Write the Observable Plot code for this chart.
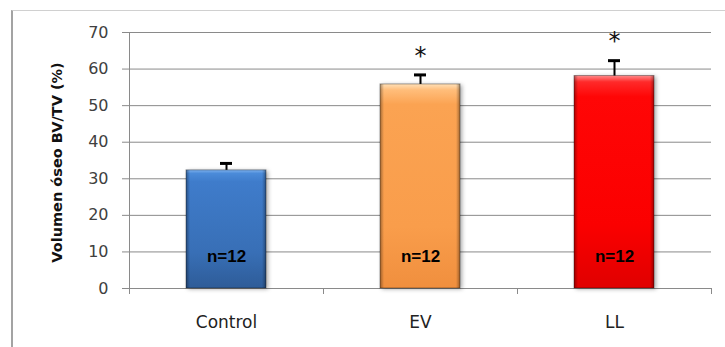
<!DOCTYPE html>
<html><head><meta charset="utf-8">
<script src="https://cdn.jsdelivr.net/npm/d3@7"></script>
<script src="https://cdn.jsdelivr.net/npm/@observablehq/plot@0.6"></script>
<style>
body{margin:0;background:#fff;}
#wrap{position:relative;width:725px;height:347px;overflow:hidden;}
#frame{position:absolute;left:11px;top:10px;right:0;bottom:0;border-left:2px solid #a3a3a3;border-top:1px solid #d0d0d0;pointer-events:none;}
</style></head><body>
<div id="wrap"><div id="frame"></div></div>
<script>
// ---- data ----
const groups = ["Control", "EV", "LL"];
const means = [32.3, 55.8, 58.1];
const errors = [1.9, 2.6, 4.2];
const sampleSizes = ["n=12", "n=12", "n=12"];
const significance = ["", "*", "*"];
const yTicks = [0, 10, 20, 30, 40, 50, 60, 70];
const yLabel = "Volumen óseo BV/TV (%)";

const data = groups.map((g, i) => ({
  group: g, mean: means[i], upper: means[i] + errors[i],
  n: sampleSizes[i], sig: significance[i]
}));

// ---- styles ----
const fills = ["url(#gControl)", "url(#gEV)", "url(#gLL)"];
const grid = "#8a8a8a";
const font = "'DejaVu Sans', sans-serif";

const chart = Plot.plot({
  width: 725, height: 347,
  marginLeft: 129, marginRight: 14, marginTop: 32, marginBottom: 59,
  style: {fontFamily: font, background: "transparent", overflow: "visible"},
  x: {domain: groups, paddingInner: 0.59, paddingOuter: 0.295, label: null},
  y: {domain: [0, 70], label: null},
  color: {domain: groups, range: fills},
  marks: [
    Plot.gridY(yTicks, {stroke: grid, strokeOpacity: 1, insetLeft: -7}),
    Plot.axisY(yTicks, {tickSize: 0, tickPadding: 21, fontSize: 16, color: "#404040", label: null}),
    Plot.axisX({tickSize: 0, tickPadding: 27, fontSize: 17, color: "#222", label: null}),
    Plot.barY(data, {x: "group", y: "mean", fill: "group"}),
    Plot.barY(data, {x: "group", y: "mean", fill: "url(#edgeShade)", stroke: "rgba(0,0,0,0.35)", strokeWidth: 1}),
    Plot.ruleX(data, {x: "group", y1: "mean", y2: "upper", stroke: "#000", strokeWidth: 2}),
    Plot.tickY(data, {x: "group", y: "upper", stroke: "#000", strokeWidth: 3, insetLeft: 34, insetRight: 34}),
    Plot.text(data.filter(d => d.sig), {x: "group", y: "upper", text: "sig", dy: -19, fontSize: 24, fill: "#111"}),
    Plot.text(data, {x: "group", frameAnchor: "bottom", dy: -27, text: "n", fontFamily: "'Liberation Sans', Arial, sans-serif", fontWeight: "bold", fontSize: 17, fill: "#000"}),
    Plot.text([yLabel], {frameAnchor: "left", textAnchor: "middle", dx: -72, dy: 2, rotate: -90, text: d => d, fontSize: 14.5, fontWeight: "bold", fill: "#111"})
  ]
});

// gradients and filters
const svg = d3.select(chart);
const defs = svg.insert("defs", ":first-child");
function vgrad(id, stops) {
  const g = defs.append("linearGradient").attr("id", id).attr("x1", 0).attr("y1", 0).attr("x2", 0).attr("y2", 1);
  stops.forEach(([o, c]) => g.append("stop").attr("offset", o).attr("stop-color", c));
}
vgrad("gControl", [[0, "#7fb2ee"], [0.03, "#4b8bd9"], [0.1, "#3f7ccb"], [0.7, "#386fb6"], [1, "#2e5c98"]]);
vgrad("gEV", [[0, "#ffe0b8"], [0.03, "#ffbd7a"], [0.1, "#fba352"], [0.7, "#f99d4b"], [1, "#f08f3e"]]);
vgrad("gLL", [[0, "#ff8a8a"], [0.03, "#ff2a2a"], [0.1, "#ff0606"], [0.7, "#fb0000"], [1, "#e00000"]]);
const edge = defs.append("linearGradient").attr("id", "edgeShade").attr("x1", 0).attr("y1", 0).attr("x2", 1).attr("y2", 0);
[[0, "rgba(0,0,0,0.35)"], [0.05, "rgba(0,0,0,0)"], [0.95, "rgba(0,0,0,0)"], [1, "rgba(0,0,0,0.35)"]]
  .forEach(([o, c]) => edge.append("stop").attr("offset", o).attr("stop-color", c));

svg.select('g[aria-label="bar"]').style("filter", "drop-shadow(2px 1px 2px rgba(0,0,0,0.35))");

// category boundary ticks and y axis line, positioned from Plot's scales
const xs = chart.scale("x"), ys = chart.scale("y");
const gap = (xs.step - xs.bandwidth) / 2;
const y0 = ys.apply(0), yTop = ys.apply(70);
const bounds = groups.map(g => xs.apply(g) - gap);
bounds.push(xs.apply(groups[groups.length - 1]) + xs.bandwidth + gap);
const tg = svg.append("g").attr("stroke", grid).attr("stroke-width", 1);
bounds.forEach((bx, i) => {
  tg.append("line").attr("x1", Math.round(bx) + 0.5).attr("x2", Math.round(bx) + 0.5)
    .attr("y1", i === 0 ? yTop : y0).attr("y2", y0 + 6);
});

document.getElementById("wrap").appendChild(chart);
</script>
</body></html>
